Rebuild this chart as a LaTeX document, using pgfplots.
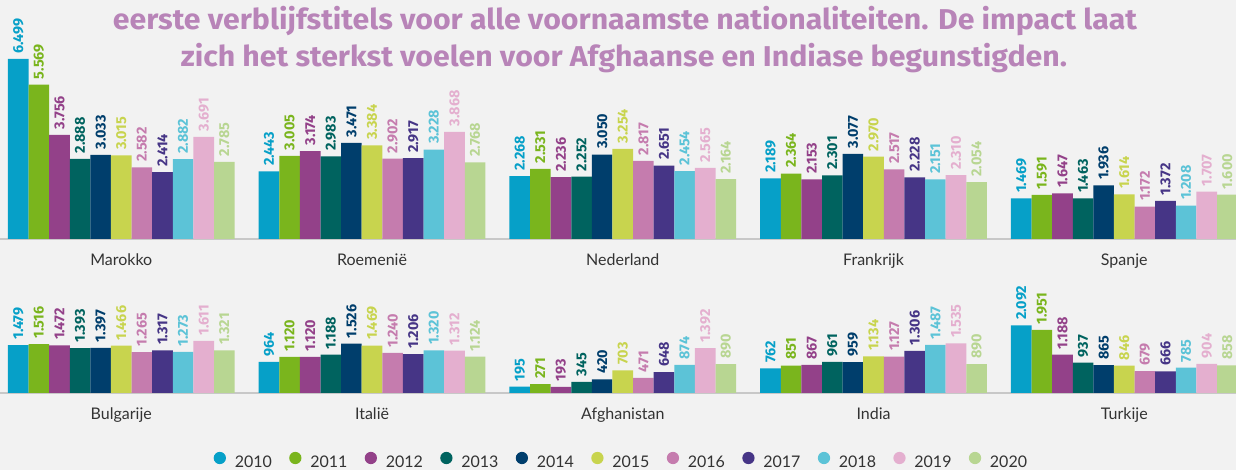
\documentclass[border=0pt]{standalone}
\usepackage{pgfplots}
\pgfplotsset{compat=1.18}
\usepackage{pgfplotstable}
\usepackage{graphicx}
\usepackage{fontspec}
\setmainfont{Lato}
\newfontfamily\firafont{Fira Sans}
\definecolor{bg}{HTML}{F2F2F2}
\definecolor{titlecol}{HTML}{B884B8}
\definecolor{labelgray}{HTML}{333333}
\definecolor{linegray}{HTML}{C8C8C8}
\definecolor{c2010}{HTML}{06A0C8}
\definecolor{c2011}{HTML}{7AB51D}
\definecolor{c2012}{HTML}{934189}
\definecolor{c2013}{HTML}{00635F}
\definecolor{c2014}{HTML}{003E6C}
\definecolor{c2015}{HTML}{C8D44E}
\definecolor{c2016}{HTML}{C57CAE}
\definecolor{c2017}{HTML}{463586}
\definecolor{c2018}{HTML}{5CC3D7}
\definecolor{c2019}{HTML}{E4AFCF}
\definecolor{c2020}{HTML}{B8D692}
\newsavebox\tA
\newlength\tAw

\pgfplotstableread{
g y2010 y2011 y2012 y2013 y2014 y2015 y2016 y2017 y2018 y2019 y2020
0 6499 5569 3756 2888 3033 3015 2582 2414 2882 3691 2785
1 2443 3005 3174 2983 3471 3384 2902 2917 3228 3868 2768
2 2268 2531 2236 2252 3050 3254 2817 2651 2454 2565 2164
3 2189 2364 2153 2301 3077 2970 2517 2228 2151 2310 2054
4 1469 1591 1647 1463 1936 1614 1172 1372 1208 1707 1600
}\toprow

\pgfplotstableread{
g y2010 y2011 y2012 y2013 y2014 y2015 y2016 y2017 y2018 y2019 y2020
0 1479 1516 1472 1393 1397 1466 1265 1317 1273 1611 1321
1 964 1120 1120 1188 1526 1469 1240 1206 1320 1312 1124
2 195 271 193 345 420 703 471 648 874 1392 890
3 762 851 867 961 959 1134 1127 1306 1487 1535 890
4 2092 1951 1188 937 865 846 679 666 785 904 858
}\botrow

\pgfplotsset{
  rowaxis/.style={
    scale only axis, width=927pt,
    xmin=-0.4837, xmax=4.4455, ymin=0,
    ybar=0pt, bar width=0.0822,
    axis x line*=bottom, axis y line=none,
    x axis line style={draw=linegray, line width=1.1pt, -},
    xtick={0,1,2,3,4}, major tick length=0pt,
    xticklabel style={font=\fontsize{12pt}{14pt}\selectfont, text=labelgray, yshift=-7.5pt},
    clip=false,
    nodes near coords={\pgfmathprintnumber[fixed,precision=0,1000 sep={.},assume math mode=true]{\pgfplotspointmeta}},
    every node near coord/.append style={rotate=90, anchor=west, font=\firafont\bfseries\fontsize{10.8pt}{12pt}\selectfont, inner xsep=4pt},
  },
  yr/.style={fill=#1, draw=none, every node near coord/.append style={text=#1},
    legend image code/.code={\fill[#1] (0.3em,0.35em) circle (4.6pt);}},
}

\begin{document}
\begin{tikzpicture}
\fill[bg] (0,0) rectangle (927pt,352.5pt);
\useasboundingbox (0,0) rectangle (927pt,352.5pt);

\begin{axis}[rowaxis, at={(0pt,173.25pt)}, anchor=south west,
  height=179.25pt, ymax=8628,
  xticklabels={Marokko,Roemenië,Nederland,Frankrijk,Spanje}]
\addplot[yr=c2010] table[x=g,y=y2010] {\toprow};
\addplot[yr=c2011] table[x=g,y=y2011] {\toprow};
\addplot[yr=c2012] table[x=g,y=y2012] {\toprow};
\addplot[yr=c2013] table[x=g,y=y2013] {\toprow};
\addplot[yr=c2014] table[x=g,y=y2014] {\toprow};
\addplot[yr=c2015] table[x=g,y=y2015] {\toprow};
\addplot[yr=c2016] table[x=g,y=y2016] {\toprow};
\addplot[yr=c2017] table[x=g,y=y2017] {\toprow};
\addplot[yr=c2018] table[x=g,y=y2018] {\toprow};
\addplot[yr=c2019] table[x=g,y=y2019] {\toprow};
\addplot[yr=c2020] table[x=g,y=y2020] {\toprow};
\end{axis}

\begin{axis}[rowaxis, at={(0pt,57.75pt)}, anchor=south west,
  height=92.25pt, ymax=3808,
  xticklabels={Bulgarije,Italië,Afghanistan,India,Turkije},
  legend columns=11,
  legend style={draw=none, fill=none, at={(0.503,-0.561)}, anchor=center,
    font=\fontsize{12pt}{14pt}\selectfont, text=labelgray,
    /tikz/every odd column/.append style={column sep=4.6pt},
    /tikz/every even column/.append style={column sep=11pt}}]
\addplot[yr=c2010] table[x=g,y=y2010] {\botrow};
\addplot[yr=c2011] table[x=g,y=y2011] {\botrow};
\addplot[yr=c2012] table[x=g,y=y2012] {\botrow};
\addplot[yr=c2013] table[x=g,y=y2013] {\botrow};
\addplot[yr=c2014] table[x=g,y=y2014] {\botrow};
\addplot[yr=c2015] table[x=g,y=y2015] {\botrow};
\addplot[yr=c2016] table[x=g,y=y2016] {\botrow};
\addplot[yr=c2017] table[x=g,y=y2017] {\botrow};
\addplot[yr=c2018] table[x=g,y=y2018] {\botrow};
\addplot[yr=c2019] table[x=g,y=y2019] {\botrow};
\addplot[yr=c2020] table[x=g,y=y2020] {\botrow};
\legend{2010,2011,2012,2013,2014,2015,2016,2017,2018,2019,2020}
\end{axis}

\node[anchor=base, text=titlecol, inner sep=0pt] at (468.75pt,330pt) {%
  \sbox\tA{\firafont\bfseries\fontsize{21.5pt}{26pt}\selectfont eerste verblijfstitels voor alle voornaamste nationaliteiten. De impact laat}%
  \setlength\tAw{\wd\tA}%
  \pgfmathsetmacro\tsx{768/\tAw}\global\let\tsxg\tsx
  \scalebox{\tsx}[1]{\usebox\tA}};
\node[anchor=base, text=titlecol, inner sep=0pt] at (468pt,302.25pt) {%
  \scalebox{\tsxg}[1]{\firafont\bfseries\fontsize{21.5pt}{26pt}\selectfont zich het sterkst voelen voor Afghaanse en Indiase begunstigden.}};
\end{tikzpicture}
\end{document}
